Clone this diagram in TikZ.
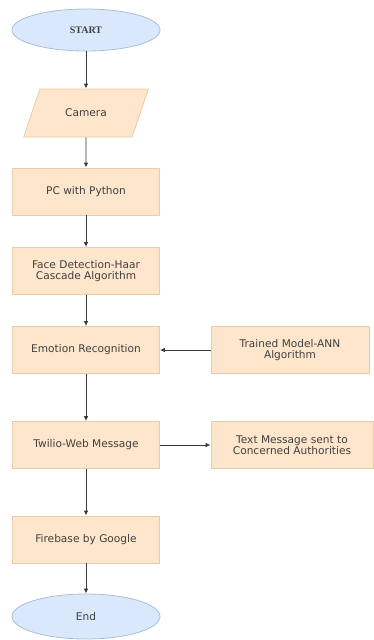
\documentclass[tikz,border=0pt]{standalone}
\usepackage{fontspec}
\setmainfont{Liberation Serif}
\newfontfamily\boxfont{DejaVu Sans}
\usepackage{xcolor}
\usetikzlibrary{shapes.geometric,arrows.meta}

\definecolor{termfill}{HTML}{DAE8FC}
\definecolor{termline}{HTML}{A8BEDD}
\definecolor{stepfill}{HTML}{FDE6CB}
\definecolor{stepline}{HTML}{EACDA6}
\definecolor{flowline}{HTML}{3A3A3A}

\begin{document}
\begin{tikzpicture}[x=1pt,y=-1pt,
  every node/.style={font=\boxfont\fontsize{10.6}{11.5}\selectfont, text=black!75, align=center},
  terminal/.style={ellipse, draw=termline, fill=termfill, line width=0.8pt,
    minimum width=148pt, minimum height=42pt},
  stepbox/.style={rectangle, draw=stepline, fill=stepfill, line width=0.8pt,
    minimum width=147pt, minimum height=47pt},
  iobox/.style={trapezium, trapezium left angle=60, trapezium right angle=120,
    trapezium stretches=true, draw=stepline, fill=stepfill, line width=0.8pt,
    minimum width=125pt, minimum height=48pt},
  flow/.style={draw=flowline, line width=0.9pt, -{Latex[length=5pt,width=4.5pt]}}]

% Page frame
\useasboundingbox (0,0) rectangle (374,640);

% Terminals
\node[terminal, font=\rmfamily\bfseries\fontsize{10}{12}\selectfont] (start) at (86,30) {START};
\node[terminal, minimum height=45pt] (end) at (86,616.5) {End};

% Input
\node[iobox] (camera) at (86,113) {Camera};

% Main column
\node[stepbox] (pc) at (86,191.5) {PC with Python};
\node[stepbox] (face) at (86,271) {Face Detection-Haar\\Cascade Algorithm};
\node[stepbox] (emotion) at (86,350) {Emotion Recognition};
\node[stepbox] (twilio) at (86,445) {Twilio-Web Message};
\node[stepbox] (firebase) at (86,539.5) {Firebase by Google};

% Side boxes
\node[stepbox, minimum width=158pt] (model) at (290,350) {Trained Model-ANN\\Algorithm};
\node[stepbox, minimum width=162pt] (sms) at (292,445) {Text Message sent to\\Concerned Authorities};

% Connectors
\draw[flow] (start) -- (camera);
\draw[flow] (camera) -- (pc);
\draw[flow] (pc) -- (face);
\draw[flow] (face) -- (emotion);
\draw[flow] (emotion) -- (twilio);
\draw[flow] (twilio) -- (firebase);
\draw[flow] (firebase) -- (end);
\draw[flow] (model) -- (emotion);
\draw[flow] (twilio) -- (sms);

\end{tikzpicture}
\end{document}
